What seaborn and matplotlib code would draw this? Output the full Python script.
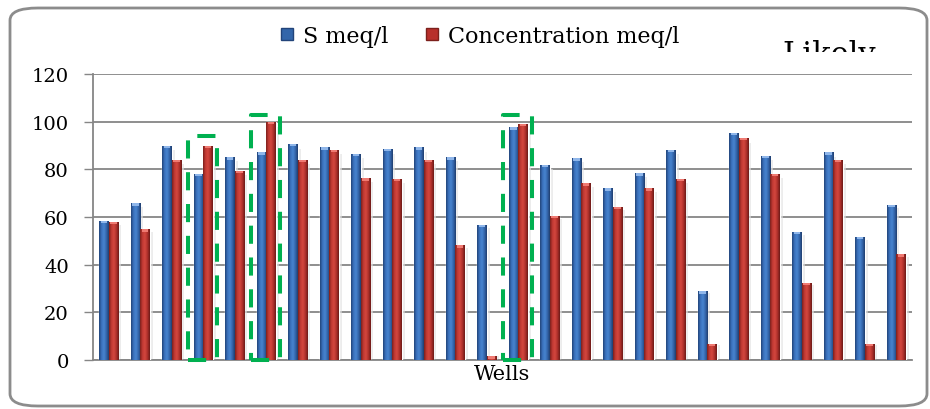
import numpy as np
import pandas as pd
import seaborn as sns
import matplotlib.pyplot as plt
from matplotlib.patches import FancyBboxPatch, Rectangle
from matplotlib.colors import LinearSegmentedColormap

# Well-by-well values (meq/l)
wells = [str(i) for i in range(1, 27)]
s_meq = [58.2, 65.7, 89.7, 77.9, 85.0, 87.1, 90.5, 89.2, 86.3, 88.4, 89.2, 85.0, 56.5,
         97.6, 81.7, 84.6, 72.0, 78.3, 88.0, 28.8, 95.1, 85.5, 53.6, 87.1, 51.5, 64.9]
conc_meq = [57.8, 54.8, 83.8, 89.7, 79.2, 99.9, 83.8, 88.1, 76.2, 75.8, 83.8, 48.1, 1.5,
            98.9, 60.3, 74.1, 64.1, 72.0, 75.8, 6.6, 93.0, 77.9, 32.2, 83.8, 6.6, 44.3]
series_names = ["S meq/l", "Concentration meq/l"]
y_ticks = [0, 20, 40, 60, 80, 100, 120]

# Wells outlined with a dashed box, with the box height
highlight_wells = ["4", "6", "14"]
highlight_tops = [94, 103, 103]

df = pd.DataFrame({
    "Well": wells * 2,
    "Series": [series_names[0]] * len(wells) + [series_names[1]] * len(wells),
    "Value": s_meq + conc_meq,
})

sns.set_theme(style="white")
plt.rcParams["font.family"] = ["DejaVu Serif", "Liberation Serif"]
plt.rcParams["text.color"] = "black"
plt.rcParams["ytick.labelcolor"] = "black"
plt.rcParams["axes.labelcolor"] = "black"

fig = plt.figure(figsize=(9.3, 4.1), dpi=100)
fig.patch.set_facecolor("white")

# Rounded chart frame
frame = FancyBboxPatch((10 / 930, 1 - 407 / 410), 917 / 930, 398 / 410,
                       boxstyle="round,pad=0,rounding_size=0.03",
                       transform=fig.transFigure, facecolor="none",
                       edgecolor="#8c8c8c", linewidth=2.0, zorder=0)
fig.patches.append(frame)

ax = fig.add_axes([93 / 930, 1 - 361 / 410, (912 - 93) / 930, (361 - 75) / 410])

blue = "#3366aa"
red = "#b8302c"
sns.barplot(data=df, x="Well", y="Value", hue="Series", order=wells,
            hue_order=series_names, palette=[blue, red], width=0.6,
            saturation=1, legend=False, ax=ax, zorder=3)

# Cylinder-like shading across each bar
cmaps = {
    blue: LinearSegmentedColormap.from_list("b", ["#22447a", "#3a71bc", "#4884cf", "#3465ab", "#203e6d"]),
    red: LinearSegmentedColormap.from_list("r", ["#7c201c", "#c23a34", "#d3463e", "#ae302b", "#6c1b18"]),
}
grad = np.linspace(0, 1, 64).reshape(1, -1)
for bar in list(ax.patches):
    x0, y0 = bar.get_x(), bar.get_y()
    w, h = bar.get_width(), bar.get_height()
    if h <= 0:
        continue
    fc = bar.get_facecolor()
    key = blue if fc[2] > fc[0] else red
    # soft shadow on the right
    ax.add_patch(Rectangle((x0 + w, y0), w * 0.3, h * 0.98, facecolor="#e0e0e0",
                           edgecolor="none", alpha=0.6, zorder=2))
    im = ax.imshow(grad, cmap=cmaps[key], aspect="auto",
                   extent=(x0, x0 + w, y0, y0 + h), zorder=4)
    im.set_clip_path(bar)
    # light cap at the top
    ax.add_patch(Rectangle((x0 + w * 0.15, y0 + h - 0.9), w * 0.7, 0.9,
                           facecolor="#8fb6ea" if key == blue else "#ef7a72",
                           edgecolor="none", zorder=5))

# Dashed highlight boxes
for well, top in zip(highlight_wells, highlight_tops):
    i = wells.index(well)
    xs = [i - 0.5, i + 0.43, i + 0.43, i - 0.5, i - 0.5]
    ys = [0, 0, top, top, 0]
    ax.plot(xs, ys, color="#00b050", linewidth=2.9, linestyle=(0, (4.5, 3.4)),
            zorder=6, clip_on=False)

ax.set_xlim(-0.5, len(wells) - 0.5)
ax.set_ylim(0, 120)
ax.set_yticks(y_ticks)
ax.set_yticklabels([str(t) for t in y_ticks], fontsize=14, color="black")
ax.set_xticks([])
ax.set_xlabel("Wells", fontsize=15, labelpad=3, color="black")
ax.set_ylabel("")
ax.yaxis.grid(True, color="#868686", linewidth=1.3, zorder=0)
ax.set_axisbelow(True)
ax.tick_params(axis="y", length=6.5, width=1.0, color="#868686", pad=11, left=True)
for side in ["top", "right"]:
    ax.spines[side].set_visible(False)
for side in ["left", "bottom"]:
    ax.spines[side].set_color("#868686")
    ax.spines[side].set_linewidth(1.3)

# Legend
handles = [Rectangle((0, 0), 1, 1, facecolor=blue, edgecolor="#22447a"),
           Rectangle((0, 0), 1, 1, facecolor=red, edgecolor="#7c201c")]
fig.legend(handles, series_names, loc="center", bbox_to_anchor=(480 / 930, 1 - 37 / 410),
           ncol=2, frameon=False, fontsize=16, handlelength=0.55, handleheight=0.5,
           handletextpad=0.45, columnspacing=1.7, labelcolor="black")

# Partly hidden side note above the plot
note = fig.text(782 / 930, 1 - 64 / 410, "Likely", fontsize=22, ha="left",
                va="baseline", color="black")
clip = Rectangle((700 / 930, 1 - 53 / 410), 220 / 930, 40 / 410,
                 transform=fig.transFigure)
note.set_clip_path(clip)

fig.savefig("out.png", dpi=100)
